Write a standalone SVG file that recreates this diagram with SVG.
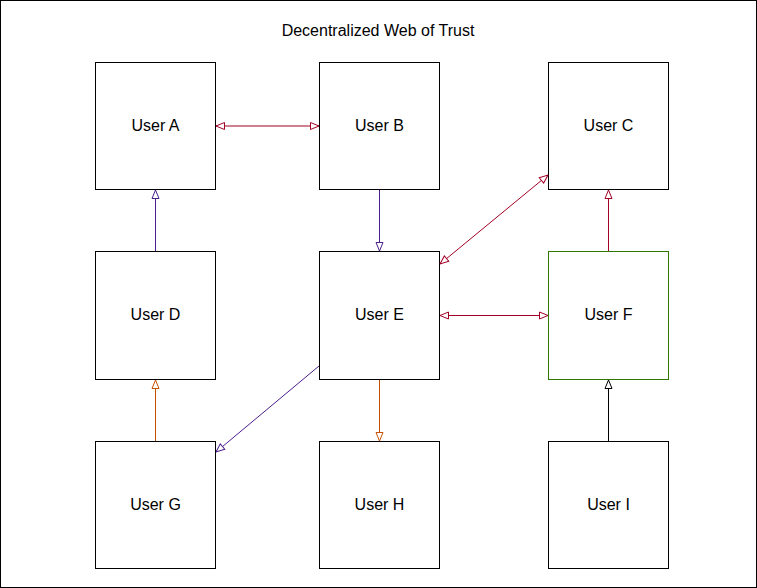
<svg xmlns="http://www.w3.org/2000/svg" width="757" height="588" viewBox="0 0 757 588">
<style>
.node rect{fill:#fff;stroke:#000;stroke-width:1}
.node text,.title{font-family:"Liberation Sans",Arial,sans-serif;font-size:16px;fill:#000;text-anchor:middle;dominant-baseline:central}
.c{fill:none;stroke-width:1}
.red{stroke:#A20025}
.pur{stroke:#4A1E8C}
.org{stroke:#C75000}
.blk{stroke:#000}
</style>
<defs>
<marker id="mr" viewBox="0 0 10 10" refX="9.5" refY="5" markerWidth="10" markerHeight="10" markerUnits="userSpaceOnUse" orient="auto-start-reverse"><path d="M1,1.5 L9.5,5 L1,8.5 Z" fill="#fff" stroke="#A20025" stroke-width="1"/></marker>
<marker id="mp" viewBox="0 0 10 10" refX="9.5" refY="5" markerWidth="10" markerHeight="10" markerUnits="userSpaceOnUse" orient="auto-start-reverse"><path d="M1,1.5 L9.5,5 L1,8.5 Z" fill="#fff" stroke="#4A1E8C" stroke-width="1"/></marker>
<marker id="mo" viewBox="0 0 10 10" refX="9.5" refY="5" markerWidth="10" markerHeight="10" markerUnits="userSpaceOnUse" orient="auto-start-reverse"><path d="M1,1.5 L9.5,5 L1,8.5 Z" fill="#fff" stroke="#C75000" stroke-width="1"/></marker>
<marker id="mk" viewBox="0 0 10 10" refX="9.5" refY="5" markerWidth="10" markerHeight="10" markerUnits="userSpaceOnUse" orient="auto-start-reverse"><path d="M1,1.5 L9.5,5 L1,8.5 Z" fill="#fff" stroke="#000" stroke-width="1"/></marker>
</defs>
<rect x="0.5" y="0.5" width="756" height="587" fill="#fff" stroke="#000"/>
<text class="title" x="378" y="30">Decentralized Web of Trust</text>
<g id="nodeA" class="node"><rect x="95.5" y="62.5" width="120" height="127"/><text x="155.5" y="125">User A</text></g>
<g id="nodeB" class="node"><rect x="319.5" y="62.5" width="120" height="127"/><text x="379.5" y="125">User B</text></g>
<g id="nodeC" class="node"><rect x="548.5" y="62.5" width="120" height="127"/><text x="608.5" y="125">User C</text></g>
<g id="nodeD" class="node"><rect x="95.5" y="251.5" width="120" height="128"/><text x="155.5" y="314">User D</text></g>
<g id="nodeE" class="node"><rect x="319.5" y="251.5" width="120" height="128"/><text x="379.5" y="314">User E</text></g>
<g id="nodeF" class="node"><rect x="548.5" y="251.5" width="120" height="128" style="stroke:#2D7600"/><text x="608.5" y="314">User F</text></g>
<g id="nodeG" class="node"><rect x="95.5" y="441.5" width="120" height="127"/><text x="155.5" y="504">User G</text></g>
<g id="nodeH" class="node"><rect x="319.5" y="441.5" width="120" height="127"/><text x="379.5" y="504">User H</text></g>
<g id="nodeI" class="node"><rect x="548.5" y="441.5" width="120" height="127"/><text x="608.5" y="504">User I</text></g>
<g id="connectors">
<line class="c red" x1="216" y1="126" x2="319" y2="126" marker-start="url(#mr)" marker-end="url(#mr)"/>
<line class="c pur" x1="155.5" y1="251" x2="155.5" y2="190" marker-end="url(#mp)"/>
<line class="c pur" x1="379.5" y1="190" x2="379.5" y2="251" marker-end="url(#mp)"/>
<line class="c red" x1="440" y1="264" x2="548" y2="175" marker-start="url(#mr)" marker-end="url(#mr)"/>
<line class="c red" x1="608.5" y1="251" x2="608.5" y2="190" marker-end="url(#mr)"/>
<line class="c red" x1="440" y1="315.5" x2="548" y2="315.5" marker-start="url(#mr)" marker-end="url(#mr)"/>
<line class="c pur" x1="319" y1="366" x2="216" y2="452" marker-end="url(#mp)"/>
<line class="c org" x1="379.5" y1="380" x2="379.5" y2="441" marker-end="url(#mo)"/>
<line class="c org" x1="155.5" y1="441" x2="155.5" y2="380" marker-end="url(#mo)"/>
<line class="c blk" x1="608.5" y1="441" x2="608.5" y2="380" marker-end="url(#mk)"/>
</g>
</svg>
